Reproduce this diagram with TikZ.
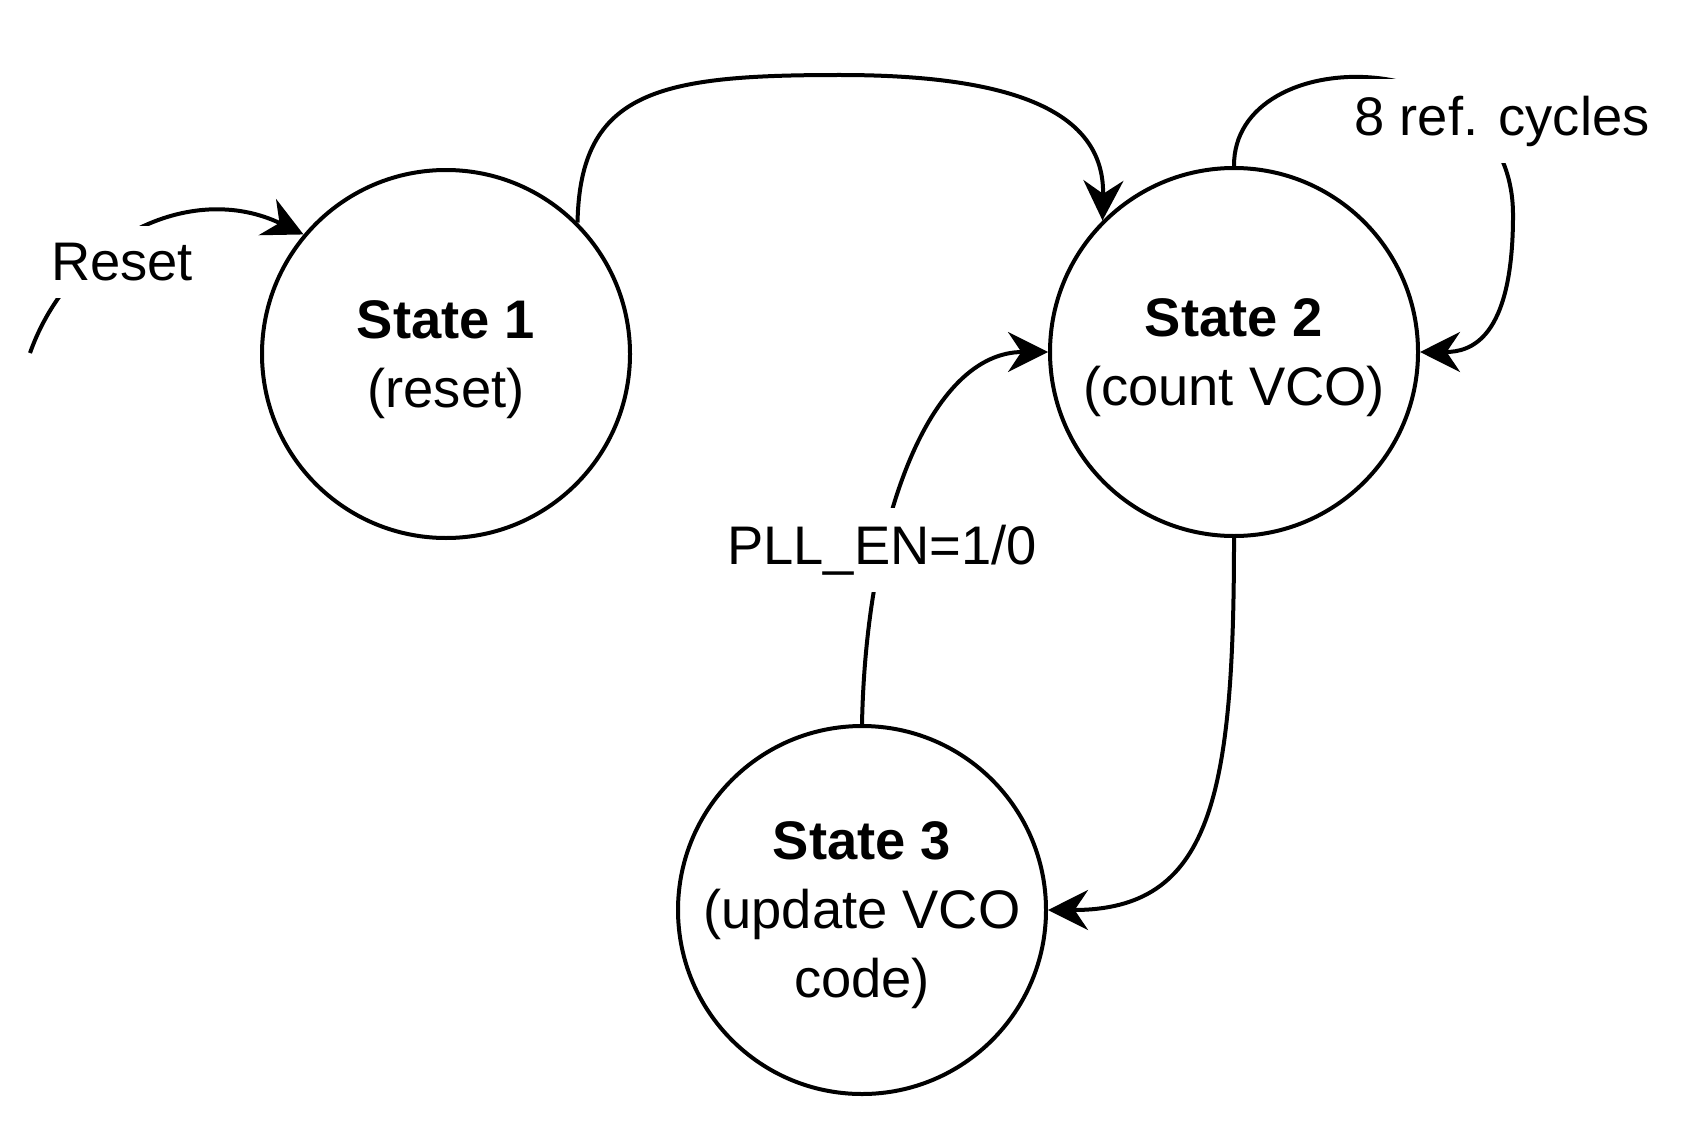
\documentclass[tikz,border=0pt]{standalone}
\usepackage{fontspec}
\setmainfont{Liberation Sans}
\usetikzlibrary{arrows.meta}
\tikzset{
  state/.style={
    circle,
    draw=black,
    line width=1.2pt,
    minimum size=110.4pt,
    inner sep=0pt,
    align=center,
    text depth=0pt,
  },
  lbl/.style={
    fill=white,
    inner xsep=2pt,
    inner ysep=5pt,
  },
  trans/.style={
    line width=1.2pt,
    -{Stealth[length=12pt, width=12pt, inset=4pt]},
  }
}

\begin{document}
\begin{tikzpicture}[x=0.3pt, y=-0.3pt, font=\fontsize{16.3}{20.7}\selectfont]
    \useasboundingbox (0,0) rectangle (1688,1126);

    \node[state] (s1) at (446,354) {\textbf{State 1}\\(reset)};
    \node[state] (s2) at (1234,352) {\textbf{State 2}\\(count VCO)};
    \node[state] (s3) at (862,910) {\textbf{State 3}\\(update VCO\\code)};

    \coordinate (rst) at (30,353);

    \draw[trans] (rst) .. controls (70,240) and (190,180) .. (s1.140);
    \draw[trans] (s1.45) .. controls (580,90) and (660,75) .. (840,75)
        .. controls (1010,75) and (1105,110) .. (s2.135);
    \draw[trans] (s2.north) .. controls (1233,40) and (1513,40) .. (1513,215)
        .. controls (1513,340) and (1470,352) .. (s2.east);
    \draw[trans] (s2.south) .. controls (1234,800) and (1210,910) .. (s3.east);
    \draw[trans] (s3.north) .. controls (866,520) and (930,352) .. (s2.west);

    % labels on top of the arcs
    \node[lbl] (reset) at (122,262) {Reset};
    \node[lbl] (cycles) at (1502,121) {8 ref. cycles};
    \node[lbl] (pllen) at (882,550) {PLL\_EN=1/0};

\end{tikzpicture}
\end{document}
